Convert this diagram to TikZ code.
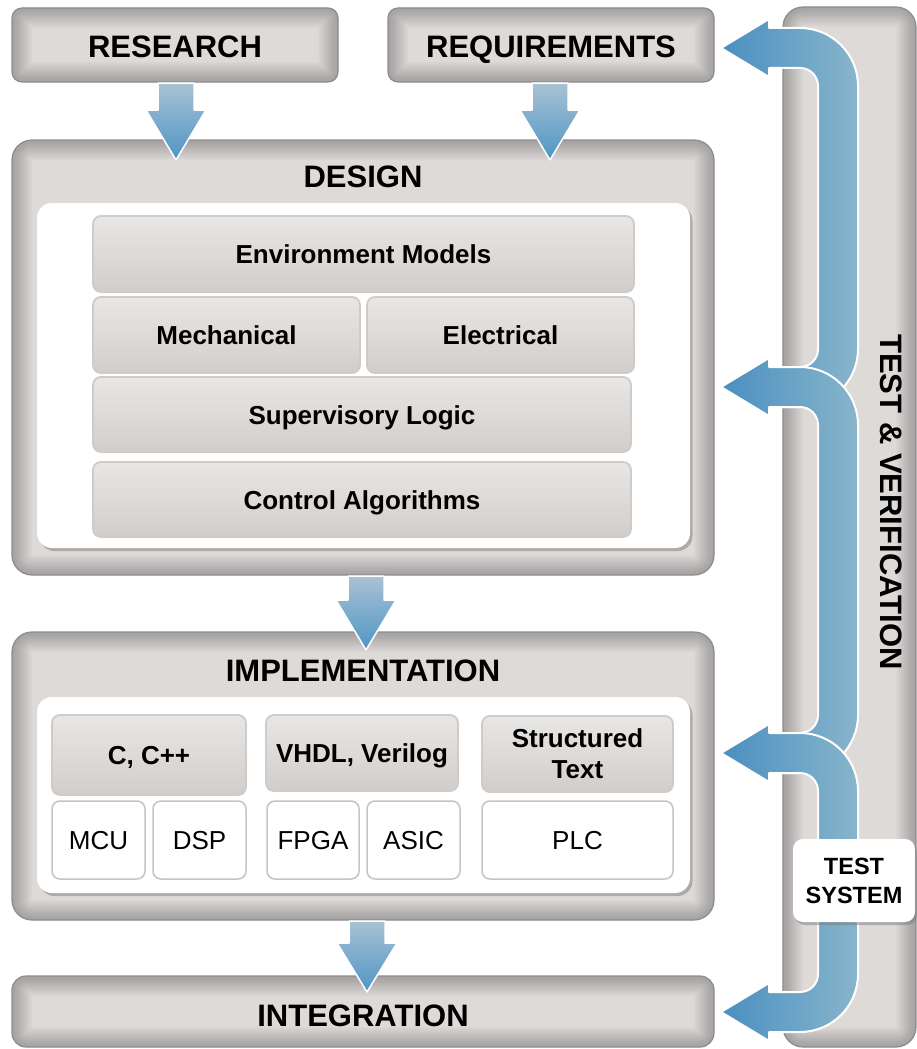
\documentclass[tikz,border=0pt]{standalone}
\usepackage{fontspec}
\setmainfont{Liberation Sans}
\usetikzlibrary{shadows}
\definecolor{boxfill}{HTML}{DEDAD8}
\definecolor{boxedge}{HTML}{8E8C8B}
\definecolor{dedge}{HTML}{CFCBC8}
\definecolor{dtop}{HTML}{E8E7E5}
\definecolor{dmid}{HTML}{DDDAD8}
\definecolor{dbot}{HTML}{D1CDCA}
\definecolor{wedge}{HTML}{C4C4C4}
\definecolor{arrowL}{HTML}{4A8FC0}
\definecolor{arrowR}{HTML}{88B5CB}
\definecolor{darrowT}{HTML}{A9C2D3}
\definecolor{darrowB}{HTML}{4E95C5}
\newcommand\ttlfont{\fontsize{31}{36}\selectfont\bfseries}
\newcommand\bxfont{\fontsize{26}{31}\selectfont\bfseries}
\newcommand\rgfont{\fontsize{26}{31}\selectfont}
\newcommand\tsfont{\fontsize{23.5}{29}\selectfont\bfseries}
\begin{document}
\begin{tikzpicture}[x=1pt,y=-1pt,
  graybox/.style={draw=boxedge, line width=1.2pt, fill=boxfill, rounded corners=#1, inner sep=0pt,
    path picture={\foreach \ww in {2,4,...,40}{\draw[line width={\ww pt}, draw=black!65, opacity=0.024, rounded corners=#1] (path picture bounding box.south west) rectangle (path picture bounding box.north east);}}},
  panel/.style={fill=white, rounded corners=15pt, inner sep=0pt,
    drop shadow={shadow xshift=2.5pt, shadow yshift=-3pt, opacity=0.45, fill=black!55}},
  dbox/.style={draw=dedge, line width=1.8pt, rounded corners=8pt, top color=dtop, bottom color=dbot, middle color=dmid, inner sep=0pt, font=\bxfont},
  fixt/.style={text height=19pt, text depth=0pt},
  wbox/.style={draw=wedge, line width=1.5pt, fill=white, rounded corners=8pt, inner sep=0pt, font=\rgfont, text height=19pt, text depth=0pt},
  ttl/.style={font=\ttlfont, inner sep=0pt, text height=22pt, text depth=0pt},
  bluearrow/.style={left color=arrowL, right color=arrowR, draw=white, line width=2pt, line join=round},
  downarrow/.style={top color=darrowT, bottom color=darrowB, draw=white, line width=1.5pt, line join=round}
]
\useasboundingbox (0,0) rectangle (917,1049);

% top boxes
\node[graybox=10pt, minimum width=326pt, minimum height=74pt] (research) at (175,45) {};
\node[ttl] (researchT) at (175,46) {RESEARCH};
\node[graybox=10pt, minimum width=326pt, minimum height=74pt] (requirements) at (551,45) {};
\node[ttl] (requirementsT) at (551,46) {REQUIREMENTS};

% design
\node[graybox=20pt, minimum width=702pt, minimum height=435pt] (design) at (363,357.5) {};
\node[ttl] (designT) at (363,176) {DESIGN};
\node[panel, minimum width=653pt, minimum height=345pt] (designPanel) at (363.5,375.5) {};
\node[dbox, fixt, minimum width=541pt, minimum height=76pt] (env) at (363.5,254) {Environment Models};
\node[dbox, fixt, minimum width=267pt, minimum height=76pt] (mech) at (226.5,335) {Mechanical};
\node[dbox, fixt, minimum width=267pt, minimum height=76pt] (elec) at (500.5,335) {Electrical};
\node[dbox, fixt, minimum width=538pt, minimum height=75pt] (sup) at (362,414.5) {Supervisory Logic};
\node[dbox, fixt, minimum width=538pt, minimum height=75pt] (ctrl) at (362,499.5) {Control Algorithms};

% implementation
\node[graybox=20pt, minimum width=702pt, minimum height=288pt] (impl) at (363,776) {};
\node[ttl] (implT) at (363,670) {IMPLEMENTATION};
\node[panel, minimum width=653pt, minimum height=196pt] (implPanel) at (363.5,795) {};
\node[dbox, fixt, minimum width=194pt, minimum height=80pt] (cpp) at (149,755) {C, C++};
\node[dbox, fixt, minimum width=192pt, minimum height=76pt] (vhdl) at (362,753) {VHDL, Verilog};
\node[dbox, minimum width=191pt, minimum height=76pt, align=center] (st) at (577.5,754) {Structured\\Text};
\node[wbox, minimum width=93pt, minimum height=78pt] (mcu) at (98.5,840) {MCU};
\node[wbox, minimum width=93pt, minimum height=78pt] (dsp) at (199.5,840) {DSP};
\node[wbox, minimum width=92pt, minimum height=78pt] (fpga) at (313,840) {FPGA};
\node[wbox, minimum width=93pt, minimum height=78pt] (asic) at (413.5,840) {ASIC};
\node[wbox, minimum width=191pt, minimum height=78pt] (plc) at (577.5,840) {PLC};

% integration
\node[graybox=14pt, minimum width=702pt, minimum height=71pt] (integ) at (363,1011.5) {};
\node[ttl] (integT) at (363,1015) {INTEGRATION};

% test column
\node[graybox=20pt, minimum width=133pt, minimum height=1040pt] (testcol) at (849.5,527) {};
\node[ttl, rotate=-90] (testcolT) at (891,502) {TEST \& VERIFICATION};

% blue feedback arrows
\path[bluearrow] (721,48) -- (769,19) -- (769,28) -- (800,28) .. controls (832,28) and (858,54) .. (858,86) -- (858,349) .. controls (858,381) and (832,407) .. (800,407) -- (780,407) -- (780,367) -- (800,367) .. controls (810,367) and (818,359) .. (818,349) -- (818,86) .. controls (818,76) and (810,68) .. (800,68) -- (769,68) -- (769,77) -- cycle;
\path[bluearrow] (721,387) -- (769,358) -- (769,367) -- (800,367) .. controls (832,367) and (858,393) .. (858,425) -- (858,715) .. controls (858,747) and (832,773) .. (800,773) -- (780,773) -- (780,733) -- (800,733) .. controls (810,733) and (818,725) .. (818,715) -- (818,425) .. controls (818,415) and (810,407) .. (800,407) -- (769,407) -- (769,416) -- cycle;
\path[bluearrow] (721,753) -- (769,724) -- (769,733) -- (800,733) .. controls (832,733) and (858,759) .. (858,791) -- (858,974) .. controls (858,1006) and (832,1032) .. (800,1032) -- (769,1032) -- (769,1041) -- (721,1012) -- (769,983) -- (769,992) -- (800,992) .. controls (810,992) and (818,984) .. (818,974) -- (818,791) .. controls (818,781) and (810,773) .. (800,773) -- (769,773) -- (769,782) -- cycle;

\node[fill=white, rounded corners=10pt, minimum width=122pt, minimum height=83pt, inner sep=0pt, align=center, font=\tsfont,
  drop shadow={shadow xshift=2pt, shadow yshift=-3pt, opacity=0.45, fill=black!55}] (testsys) at (854,880.5) {TEST\\SYSTEM};

% down arrows
\path[downarrow] (158,83) -- (158,110) -- (146,110) -- (176,160) -- (206,110) -- (194,110) -- (194,83) -- cycle;
\path[downarrow] (532,83) -- (532,110) -- (520,110) -- (550,160) -- (580,110) -- (568,110) -- (568,83) -- cycle;
\path[downarrow] (348,576) -- (348,600) -- (336,600) -- (366,650) -- (396,600) -- (384,600) -- (384,576) -- cycle;
\path[downarrow] (349,921) -- (349,943) -- (337,943) -- (367,992) -- (397,943) -- (385,943) -- (385,921) -- cycle;
\end{tikzpicture}
\end{document}
